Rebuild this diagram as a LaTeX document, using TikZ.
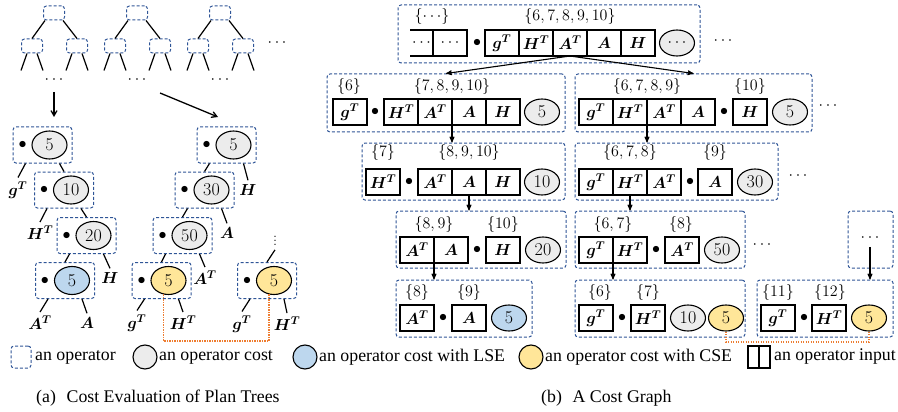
\RequirePackage{fix-cm}
\documentclass[tikz,border=0pt]{standalone}
\usepackage{bm}
\usepackage{fontspec}
\newfontfamily\capfont{Liberation Serif}
\usetikzlibrary{arrows,positioning,shapes.geometric}
\definecolor{opblue}{RGB}{47,85,151}
\definecolor{costgray}{RGB}{236,236,236}
\definecolor{lseblue}{RGB}{189,215,238}
\definecolor{cseyellow}{RGB}{255,230,153}
\definecolor{cseorange}{RGB}{237,125,49}
\newcommand{\cgfont}{\fontsize{16}{16}\selectfont}
\newcommand{\costfont}{\fontsize{18}{18}\selectfont}
\begin{document}
\begin{tikzpicture}[x=1pt,y=-1pt]
			\tikzstyle{op} = [draw=opblue, dash pattern=on 3pt off 2pt, rounded corners=3pt, line width=1pt, inner sep=0pt]
			\tikzstyle{tinyop} = [op, minimum width=21pt, minimum height=14pt]
			\tikzstyle{treeop} = [op, minimum width=59pt, minimum height=36pt]
			\tikzstyle{cost} = [ellipse, draw, line width=1.1pt, fill=costgray, minimum width=35pt, minimum height=26pt, inner sep=0pt, font=\costfont]
			\tikzstyle{tcost} = [cost, minimum height=28pt]
			\tikzstyle{cell} = [draw, line width=1.1pt, minimum width=34pt, minimum height=26pt, inner sep=0pt, outer sep=0pt, font=\cgfont]
			\tikzstyle{bul} = [inner sep=0pt, font=\cgfont]
			\tikzstyle{setl} = [inner sep=0pt, font=\cgfont]
			\tikzstyle{mat} = [inner sep=4pt, font=\cgfont]
			\tikzstyle{more} = [inner sep=1pt, font=\cgfont]
			\tikzstyle{tline} = [-, line width=1.2pt]
			\tikzstyle{arr} = [->, >=stealth', line width=1.1pt]
			\tikzstyle{bigarr} = [->, >=angle 60, line width=1.3pt]
			\tikzstyle{cse} = [draw=cseorange, line width=1.3pt, dash pattern=on 1.3pt off 1.2pt]
			\tikzstyle{legend} = [inner sep=0pt, anchor=west, font=\capfont\fontsize{17.8}{20}\selectfont]
			\useasboundingbox (0,0) rectangle (898,412);
			% (a) plan trees
			\foreach \i/\x in {1/54,2/137,3/220} {
				\node[tinyop] (t\i) at (\x,13) {};
				\node[tinyop] (t\i l) at (\x-22,46) {};
				\node[tinyop] (t\i r) at (\x+23,46) {};
				\draw[tline] ([xshift=-9pt]t\i.south) -- (t\i l.north);
				\draw[tline] ([xshift=9pt]t\i.south) -- (t\i r.north);
				\foreach \c in {t\i l,t\i r} {
					\draw[tline] ([xshift=-5pt]\c.south) -- ++(-6,17);
					\draw[tline] ([xshift=5pt]\c.south) -- ++(6,17);
				}
				\node[more] (d\i) at (\x,80) {$\cdots$};
			}
			\node[more] (tmore) at (277,43) {$\cdots$};
			\coordinate (p1) at (54,92);
			\coordinate (p2) at (54,117);
			\coordinate (p3) at (160,93);
			\coordinate (p4) at (218,117);
			\draw[bigarr] (p1) -- (p2);
			\draw[bigarr] (p3) -- (p4);
			% tree A
			\node[treeop] (ta1) at (42.5,145) {};
			\node[bul] (ta1d) at ([xshift=10pt]ta1.west) {$\bullet$};
			\node[tcost] (ta1c) at ([xshift=37pt]ta1.west) {5};
			\node[treeop] (ta2) at (64,190) {};
			\node[bul] (ta2d) at ([xshift=10pt]ta2.west) {$\bullet$};
			\node[tcost] (ta2c) at ([xshift=37pt]ta2.west) {10};
			\node[treeop] (ta3) at (86.5,235.5) {};
			\node[bul] (ta3d) at ([xshift=10pt]ta3.west) {$\bullet$};
			\node[tcost] (ta3c) at ([xshift=37pt]ta3.west) {20};
			\node[treeop] (ta4) at (65,280.5) {};
			\node[bul] (ta4d) at ([xshift=10pt]ta4.west) {$\bullet$};
			\node[tcost, fill=lseblue] (ta4c) at ([xshift=37pt]ta4.west) {5};
			\node[mat] (lag) at (18,190) {$\bm{g}^{\bm{T}}$};
			\node[mat] (lah) at (40,233) {$\bm{H}^{\bm{T}}$};
			\node[mat] (laH) at (110,278) {$\bm{H}$};
			\node[mat] (laat) at (40,323) {$\bm{A}^{\bm{T}}$};
			\node[mat] (laa) at (87,323) {$\bm{A}$};
			\draw[tline] ([xshift=-17pt]ta1.south) -- (lag.north);
			\draw[tline] ([xshift=17pt]ta1.south) -- (ta2.north);
			\draw[tline] ([xshift=-17pt]ta2.south) -- (lah.north);
			\draw[tline] ([xshift=17pt]ta2.south) -- (ta3.north);
			\draw[tline] ([xshift=-17pt]ta3.south) -- (ta4.north);
			\draw[tline] ([xshift=17pt]ta3.south) -- (laH.north);
			\draw[tline] ([xshift=-17pt]ta4.south) -- (laat.north);
			\draw[tline] ([xshift=17pt]ta4.south) -- (laa.north);
			% tree B
			\node[treeop] (tb1) at (226.5,145) {};
			\node[bul] (tb1d) at ([xshift=10pt]tb1.west) {$\bullet$};
			\node[tcost] (tb1c) at ([xshift=37pt]tb1.west) {5};
			\node[treeop] (tb2) at (204.5,190) {};
			\node[bul] (tb2d) at ([xshift=10pt]tb2.west) {$\bullet$};
			\node[tcost] (tb2c) at ([xshift=37pt]tb2.west) {30};
			\node[treeop] (tb3) at (182.5,235.5) {};
			\node[bul] (tb3d) at ([xshift=10pt]tb3.west) {$\bullet$};
			\node[tcost] (tb3c) at ([xshift=37pt]tb3.west) {50};
			\node[treeop] (tb4) at (161.5,280.5) {};
			\node[bul] (tb4d) at ([xshift=10pt]tb4.west) {$\bullet$};
			\node[tcost, fill=cseyellow] (tb4c) at ([xshift=37pt]tb4.west) {5};
			\node[mat] (lbH) at (248,190) {$\bm{H}$};
			\node[mat] (lba) at (227,233) {$\bm{A}$};
			\node[mat] (lbat) at (205,278) {$\bm{A}^{\bm{T}}$};
			\node[mat] (lbg) at (137,323) {$\bm{g}^{\bm{T}}$};
			\node[mat] (lbh) at (183,323) {$\bm{H}^{\bm{T}}$};
			\draw[tline] ([xshift=-17pt]tb1.south) -- (tb2.north);
			\draw[tline] ([xshift=17pt]tb1.south) -- (lbH.north);
			\draw[tline] ([xshift=-17pt]tb2.south) -- (tb3.north);
			\draw[tline] ([xshift=17pt]tb2.south) -- (lba.north);
			\draw[tline] ([xshift=-17pt]tb3.south) -- (tb4.north);
			\draw[tline] ([xshift=17pt]tb3.south) -- (lbat.north);
			\draw[tline] ([xshift=-17pt]tb4.south) -- (lbg.north);
			\draw[tline] ([xshift=17pt]tb4.south) -- (lbh.north);
			% tree C
			\node[more] (vd) at (275,238) {$\vdots$};
			\node[treeop] (tc1) at (267,280.5) {};
			\node[bul] (tc1d) at ([xshift=10pt]tc1.west) {$\bullet$};
			\node[tcost, fill=cseyellow] (tc1c) at ([xshift=37pt]tc1.west) {5};
			\node[mat] (lcg) at (242,324) {$\bm{g}^{\bm{T}}$};
			\node[mat] (lch) at (287,324) {$\bm{H}^{\bm{T}}$};
			\draw[tline] ([yshift=-3pt]vd.south) -- (tc1.north);
			\draw[tline] ([xshift=-17pt]tc1.south) -- (lcg.north);
			\draw[tline] ([xshift=17pt]tc1.south) -- (lch.north);
			\draw[cse] (tb4c.250) -- (tb4c.250 |- 0,341) -- (tc1c.250 |- 0,341) -- (tc1c.250);
			% (b) cost graph, row 1
			\node[op, minimum width=302pt, minimum height=58pt] (b1) at (549,34) {};
			\node[setl] (s1-1) at (432,17) {$\{\cdots\}$};
			\node[setl] (s1-2) at (570,17) {$\{6,7,8,9,10\}$};
			\node[cell, draw=none, minimum width=23pt, anchor=west] (r1-0) at (410,43) {$\cdots$};
			\draw[line width=1.1pt] (r1-0.north west) -- (r1-0.north east) (r1-0.south west) -- (r1-0.south east);
			\node[cell, right=0pt of r1-0] (r1-1) {$\cdots$};
			\node[bul] (d1) at (477,43) {$\bullet$};
			\node[cell, anchor=west] (r1-2) at (485,43) {$\bm{g}^{\bm{T}}$};
			\node[cell, right=0pt of r1-2] (r1-3) {$\bm{H}^{\bm{T}}$};
			\node[cell, right=0pt of r1-3] (r1-4) {$\bm{A}^{\bm{T}}$};
			\node[cell, right=0pt of r1-4] (r1-5) {$\bm{A}$};
			\node[cell, right=0pt of r1-5] (r1-6) {$\bm{H}$};
			\node[cost, font=\cgfont] (c1) at (677,43) {$\cdots$};
			\node[more] (m1) at (723,41) {$\cdots$};
			% row 2
			\node[op, minimum width=238pt, minimum height=58pt] (b2l) at (446,103) {};
			\node[setl] (s2l-1) at (349,87) {$\{6\}$};
			\node[setl] (s2l-2) at (452,87) {$\{7,8,9,10\}$};
			\node[cell, anchor=west] (r2l-1) at (333,112) {$\bm{g}^{\bm{T}}$};
			\node[bul] (d2l) at (375,112) {$\bullet$};
			\node[cell, anchor=west] (r2l-2) at (384,112) {$\bm{H}^{\bm{T}}$};
			\node[cell, right=0pt of r2l-2] (r2l-3) {$\bm{A}^{\bm{T}}$};
			\node[cell, right=0pt of r2l-3] (r2l-4) {$\bm{A}$};
			\node[cell, right=0pt of r2l-4] (r2l-5) {$\bm{H}$};
			\node[cost] (c2l) at (542,112) {5};
			\node[op, minimum width=237pt, minimum height=58pt] (b2r) at (693.5,103) {};
			\node[setl] (s2r-1) at (647,87) {$\{6,7,8,9\}$};
			\node[setl] (s2r-2) at (750,87) {$\{10\}$};
			\node[cell, anchor=west] (r2r-1) at (579,112) {$\bm{g}^{\bm{T}}$};
			\node[cell, right=0pt of r2r-1] (r2r-2) {$\bm{H}^{\bm{T}}$};
			\node[cell, right=0pt of r2r-2] (r2r-3) {$\bm{A}^{\bm{T}}$};
			\node[cell, right=0pt of r2r-3] (r2r-4) {$\bm{A}$};
			\node[bul] (d2r) at (724,112) {$\bullet$};
			\node[cell, anchor=west] (r2r-5) at (733,112) {$\bm{H}$};
			\node[cost] (c2r) at (790,112) {5};
			\node[more] (m2) at (828,106) {$\cdots$};
			% row 3
			\node[op, minimum width=203pt, minimum height=57pt] (b3l) at (463.5,171.5) {};
			\node[setl] (s3l-1) at (383,153) {$\{7\}$};
			\node[setl] (s3l-2) at (469,153) {$\{8,9,10\}$};
			\node[cell, anchor=west] (r3l-1) at (366,182) {$\bm{H}^{\bm{T}}$};
			\node[bul] (d3l) at (409,182) {$\bullet$};
			\node[cell, anchor=west] (r3l-2) at (418,182) {$\bm{A}^{\bm{T}}$};
			\node[cell, right=0pt of r3l-2] (r3l-3) {$\bm{A}$};
			\node[cell, right=0pt of r3l-3] (r3l-4) {$\bm{H}$};
			\node[cost] (c3l) at (542,182) {10};
			\node[op, minimum width=203pt, minimum height=57pt] (b3r) at (676.5,171.5) {};
			\node[setl] (s3r-1) at (630,153) {$\{6,7,8\}$};
			\node[setl] (s3r-2) at (715,153) {$\{9\}$};
			\node[cell, anchor=west] (r3r-1) at (579,182) {$\bm{g}^{\bm{T}}$};
			\node[cell, right=0pt of r3r-1] (r3r-2) {$\bm{H}^{\bm{T}}$};
			\node[cell, right=0pt of r3r-2] (r3r-3) {$\bm{A}^{\bm{T}}$};
			\node[bul] (d3r) at (690,182) {$\bullet$};
			\node[cell, anchor=west] (r3r-4) at (698,182) {$\bm{A}$};
			\node[cost] (c3r) at (755,182) {30};
			\node[more] (m3) at (798,176) {$\cdots$};
			% row 4
			\node[op, minimum width=170pt, minimum height=57pt] (b4l) at (481,239.5) {};
			\node[setl] (s4l-1) at (434,224) {$\{8,9\}$};
			\node[setl] (s4l-2) at (503,224) {$\{10\}$};
			\node[cell, anchor=west] (r4l-1) at (400,250) {$\bm{A}^{\bm{T}}$};
			\node[cell, right=0pt of r4l-1] (r4l-2) {$\bm{A}$};
			\node[bul] (d4l) at (477,250) {$\bullet$};
			\node[cell, anchor=west] (r4l-3) at (486,250) {$\bm{H}$};
			\node[cost] (c4l) at (543,250) {20};
			\node[op, minimum width=170pt, minimum height=57pt] (b4r) at (660,239.5) {};
			\node[setl] (s4r-1) at (613,224) {$\{6,7\}$};
			\node[setl] (s4r-2) at (681,224) {$\{8\}$};
			\node[cell, anchor=west] (r4r-1) at (579,250) {$\bm{g}^{\bm{T}}$};
			\node[cell, right=0pt of r4r-1] (r4r-2) {$\bm{H}^{\bm{T}}$};
			\node[bul] (d4r) at (656,250) {$\bullet$};
			\node[cell, anchor=west] (r4r-3) at (665,250) {$\bm{A}^{\bm{T}}$};
			\node[cost] (c4r) at (722,250) {50};
			\node[more] (m4) at (762,245) {$\cdots$};
			\node[op, minimum width=45pt, minimum height=57pt] (b4x) at (870.5,239.5) {};
			\node[more] (m4x) at (870,238) {$\cdots$};
			% row 5
			\node[op, minimum width=136pt, minimum height=57pt] (b5l) at (464,308.5) {};
			\node[setl] (s5l-1) at (417,292) {$\{8\}$};
			\node[setl] (s5l-2) at (469,292) {$\{9\}$};
			\node[cell, anchor=west] (r5l-1) at (400,318) {$\bm{A}^{\bm{T}}$};
			\node[bul] (d5l) at (443,318) {$\bullet$};
			\node[cell, anchor=west] (r5l-2) at (452,318) {$\bm{A}$};
			\node[cost, fill=lseblue] (c5l) at (509,318) {5};
			\node[op, minimum width=170pt, minimum height=57pt] (b5m) at (660,308.5) {};
			\node[setl] (s5m-1) at (600,292) {$\{6\}$};
			\node[setl] (s5m-2) at (648,292) {$\{7\}$};
			\node[cell, anchor=west] (r5m-1) at (579,318) {$\bm{g}^{\bm{T}}$};
			\node[bul] (d5m) at (622,318) {$\bullet$};
			\node[cell, anchor=west] (r5m-2) at (631,318) {$\bm{H}^{\bm{T}}$};
			\node[cost] (c5m-1) at (688,318) {10};
			\node[cost, fill=cseyellow] (c5m-2) at (726,318) {5};
			\node[op, minimum width=136pt, minimum height=57pt] (b5r) at (825,308.5) {};
			\node[setl] (s5r-1) at (778,292) {$\{11\}$};
			\node[setl] (s5r-2) at (830,292) {$\{12\}$};
			\node[cell, anchor=west] (r5r-1) at (761,318) {$\bm{g}^{\bm{T}}$};
			\node[bul] (d5r) at (804,318) {$\bullet$};
			\node[cell, anchor=west] (r5r-2) at (812,318) {$\bm{H}^{\bm{T}}$};
			\node[cost, fill=cseyellow] (c5r) at (869,318) {5};
			% connectors
			\draw[arr] (r1-4.south) -- (b2l.north);
			\draw[arr] (r1-4.south) -- (b2r.north);
			\draw[arr] (r2l-3.south east) -- (r2l-3.south east |- b3l.north);
			\draw[arr] (r3l-3.south) -- (r3l-3.south |- b4l.north);
			\draw[arr] (r4l-1.south east) -- (r4l-1.south east |- b5l.north);
			\draw[arr] (r2r-2.south east) -- (r2r-2.south east |- b3r.north);
			\draw[arr] (r3r-2.south) -- (r3r-2.south |- b4r.north);
			\draw[arr] (r4r-1.south east) -- (r4r-1.south east |- b5m.north);
			\draw[arr] ([yshift=-4pt]m4x.south) -- (m4x.south |- b5r.north);
			\draw[cse] (c5m-2.south) -- (c5m-2.south |- 0,342) -- (c5r.south |- 0,342) -- (c5r.south);
			% legend
			\node[op, minimum width=20pt, minimum height=22pt] (lg1) at (21,357) {};
			\node[legend] (lt1) at (35,357) {an operator};
			\node[cost, minimum width=24pt, minimum height=24pt] (lg2) at (145,357) {};
			\node[legend] (lt2) at (159,357) {an operator cost};
			\node[cost, fill=lseblue, minimum width=24pt, minimum height=24pt] (lg3) at (305,357) {};
			\node[legend] (lt3) at (319,357) {an operator cost with LSE};
			\node[cost, fill=cseyellow, minimum width=24pt, minimum height=24pt] (lg4) at (531,357) {};
			\node[legend] (lt4) at (545,357) {an operator cost with CSE};
			\node[cell, minimum width=11pt, minimum height=22pt, anchor=west] (lg5a) at (748,357) {};
			\node[cell, minimum width=11pt, minimum height=22pt, right=0pt of lg5a] (lg5b) {};
			\node[legend] (lt5) at (774,357) {an operator input};
			% captions
			\node[legend] (cap-a) at (36,398) {(a)\hspace{0.6em}Cost Evaluation of Plan Trees};
			\node[legend] (cap-b) at (541,398) {(b)\hspace{0.6em}A Cost Graph};
		\end{tikzpicture}
\end{document}
